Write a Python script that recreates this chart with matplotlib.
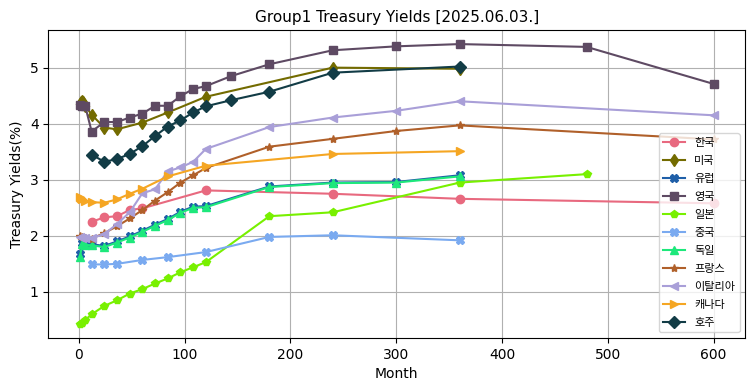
import matplotlib
matplotlib.use('Agg')
import matplotlib.pyplot as plt

plt.rcParams['font.family'] = ['DejaVu Sans', 'Noto Sans CJK KR']

# 만기(개월) / 금리(%)
kr_m = [12, 24, 36, 48, 60, 120, 240, 360, 600]
kr_y = [2.25, 2.33, 2.35, 2.46, 2.49, 2.81, 2.75, 2.66, 2.58]

us_m = [1, 2, 3, 4, 6, 12, 24, 36, 60, 84, 120, 240, 360]
us_y = [4.36, 4.38, 4.40, 4.38, 4.32, 4.16, 3.93, 3.90, 4.02, 4.20, 4.48, 5.00, 4.98]

eu_m = [1, 3, 6, 12, 24, 36, 48, 60, 72, 84, 96, 108, 120, 180, 240, 300, 360]
eu_y = [1.67, 1.87, 1.86, 1.85, 1.82, 1.90, 1.99, 2.09, 2.20, 2.30, 2.43, 2.52, 2.53, 2.88, 2.95, 2.96, 3.08]

uk_m = [1, 3, 6, 12, 24, 36, 48, 60, 72, 84, 96, 108, 120, 144, 180, 240, 300, 360, 480, 600]
uk_y = [4.33, 4.32, 4.31, 3.86, 4.03, 4.03, 4.11, 4.18, 4.32, 4.32, 4.49, 4.62, 4.67, 4.85, 5.06, 5.31, 5.38, 5.42, 5.37, 4.71]

jp_m = [1, 3, 6, 12, 24, 36, 48, 60, 72, 84, 96, 108, 120, 180, 240, 360, 480]
jp_y = [0.43, 0.45, 0.50, 0.60, 0.75, 0.85, 0.97, 1.05, 1.15, 1.24, 1.35, 1.44, 1.53, 2.35, 2.42, 2.95, 3.10]

cn_m = [12, 24, 36, 60, 84, 120, 180, 240, 360]
cn_y = [1.49, 1.49, 1.50, 1.57, 1.62, 1.71, 1.98, 2.01, 1.92]

de_m = [1, 3, 6, 12, 24, 36, 48, 60, 72, 84, 96, 108, 120, 180, 240, 300, 360]
de_y = [1.62, 1.85, 1.84, 1.83, 1.80, 1.88, 1.97, 2.07, 2.18, 2.28, 2.41, 2.50, 2.51, 2.87, 2.94, 2.95, 3.06]

fr_m = [1, 3, 6, 12, 24, 36, 48, 60, 72, 84, 96, 108, 120, 180, 240, 300, 360, 600]
fr_y = [2.00, 1.98, 1.96, 1.95, 2.05, 2.17, 2.31, 2.46, 2.63, 2.78, 2.95, 3.08, 3.21, 3.59, 3.73, 3.87, 3.97, 3.72]

it_m = [1, 3, 6, 12, 24, 36, 48, 60, 72, 84, 96, 108, 120, 180, 240, 300, 360, 600]
it_y = [1.98, 1.97, 1.96, 1.96, 2.03, 2.21, 2.42, 2.76, 2.83, 3.15, 3.22, 3.32, 3.55, 3.94, 4.11, 4.23, 4.40, 4.15]

ca_m = [1, 2, 3, 6, 12, 24, 36, 48, 60, 84, 120, 240, 360]
ca_y = [2.70, 2.68, 2.66, 2.63, 2.60, 2.59, 2.65, 2.75, 2.84, 3.06, 3.25, 3.46, 3.51]

au_m = [12, 24, 36, 48, 60, 72, 84, 96, 108, 120, 144, 180, 240, 360]
au_y = [3.45, 3.32, 3.37, 3.46, 3.60, 3.78, 3.95, 4.06, 4.20, 4.31, 4.42, 4.57, 4.91, 5.02]

series = [
    ('한국', kr_m, kr_y, 'o', '#e8697f'),
    ('미국', us_m, us_y, 'd', '#736b00'),
    ('유럽', eu_m, eu_y, 'X', '#1f5fa8'),
    ('영국', uk_m, uk_y, 's', '#5e4a63'),
    ('일본', jp_m, jp_y, 'p', '#78f000'),
    ('중국', cn_m, cn_y, 'X', '#7aaaf0'),
    ('독일', de_m, de_y, '^', '#1de87b'),
    ('프랑스', fr_m, fr_y, '*', '#b0602a'),
    ('이탈리아', it_m, it_y, '<', '#a99fd8'),
    ('캐나다', ca_m, ca_y, '>', '#f5a623'),
    ('호주', au_m, au_y, 'D', '#123c46'),
]

fig, ax = plt.subplots(figsize=(7.55, 3.91), dpi=100)
fig.subplots_adjust(left=0.064, right=0.987, top=0.923, bottom=0.136)

for name, m, y, mk, c in series:
    ax.plot(m, y, marker=mk, color=c, label=name, markersize=6)

ax.set_title('Group1 Treasury Yields [2025.06.03.]', fontsize=11)
ax.set_xlabel('Month')
ax.set_ylabel('Treasury Yields(%)')
ax.grid(True)
ax.legend(loc='lower right', fontsize=8, labelspacing=0.72)

plt.savefig('out.png')
